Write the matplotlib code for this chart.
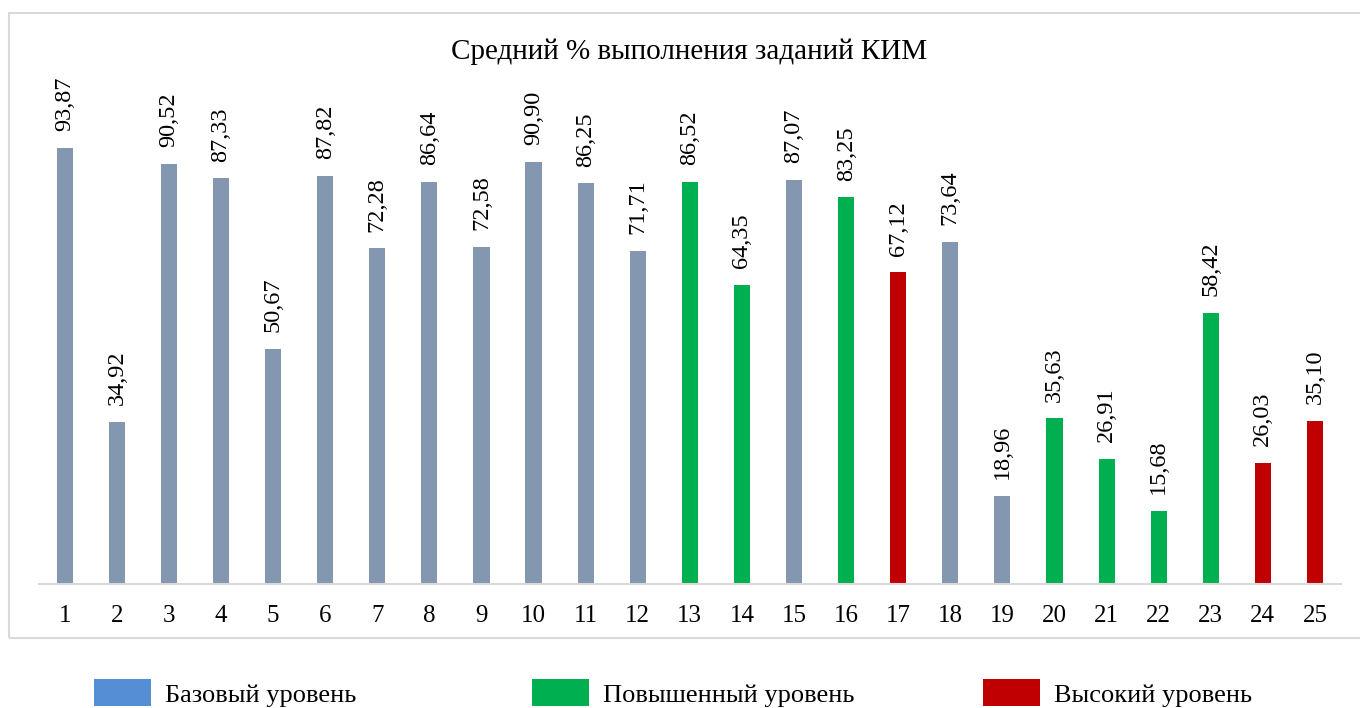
import matplotlib.pyplot as plt
from matplotlib.patches import Patch, Rectangle

plt.rcParams['font.family'] = ['Liberation Serif', 'DejaVu Serif']

tasks = [str(i) for i in range(1, 26)]
values = [93.87, 34.92, 90.52, 87.33, 50.67, 87.82, 72.28, 86.64, 72.58, 90.90,
          86.25, 71.71, 86.52, 64.35, 87.07, 83.25, 67.12, 73.64, 18.96, 35.63,
          26.91, 15.68, 58.42, 26.03, 35.10]
# 0 - базовый, 1 - повышенный, 2 - высокий
levels = [0, 0, 0, 0, 0, 0, 0, 0, 0, 0, 0, 0, 1, 1, 0, 1, 2, 0, 0, 1,
          1, 1, 1, 2, 2]
level_names = ['Базовый уровень', 'Повышенный уровень', 'Высокий уровень']

bar_colors = ['#8497B0', '#00B050', '#C00000']
legend_colors = ['#558ED5', '#00B050', '#C00000']

W, H = 1360, 708
fig = plt.figure(figsize=(W / 100, H / 100), dpi=100)

# grey frame around chart area
fig.patches.append(Rectangle((9 / W, 1 - 638 / H), 1360 / W, (638 - 13) / H,
                             transform=fig.transFigure, fill=False,
                             edgecolor='#D9D9D9', linewidth=1.5))

ax = fig.add_axes([38.7 / W, 1 - 584 / H, (1341 - 38.7) / W, (584 - 119.5) / H])

x = range(len(values))
ax.bar(x, values, width=0.31, color=[bar_colors[l] for l in levels])

for xi, v in zip(x, values):
    ax.text(xi, v + 3.6, f'{v:.2f}'.replace('.', ','), rotation=90,
            ha='center', va='bottom', fontsize=17.5)

ax.set_xlim(-0.5, len(values) - 0.5)
ax.set_ylim(0, 100)
ax.set_xticks(list(x))
ax.set_xticklabels(tasks, fontsize=18)
ax.tick_params(axis='x', length=0, pad=15)
ax.set_yticks([])
for s in ['top', 'right', 'left']:
    ax.spines[s].set_visible(False)
ax.spines['bottom'].set_color('#D9D9D9')
ax.spines['bottom'].set_linewidth(1.5)

fig.text(689 / W, 1 - 52 / H, 'Средний % выполнения заданий КИМ',
         ha='center', va='center', fontsize=21)

# legend: three equal-width slots
starts = [94, 532, 983]
for name, col, x0 in zip(level_names, legend_colors, starts):
    fig.legend(handles=[Patch(facecolor=col)], labels=[name],
               loc='center left', bbox_to_anchor=(x0 / W, 1 - 693 / H),
               frameon=False, fontsize=19, handlelength=2.15,
               handleheight=1.15, handletextpad=0.55, borderpad=0,
               borderaxespad=0)

fig.savefig('out.png', dpi=100)
